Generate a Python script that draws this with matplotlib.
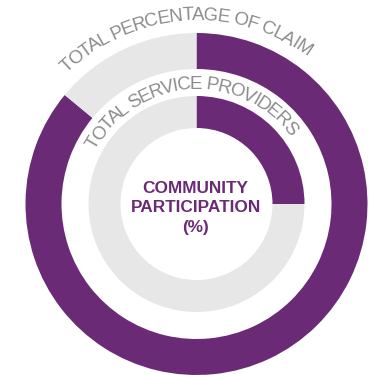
import numpy as np
import matplotlib
matplotlib.use('Agg')
import matplotlib.pyplot as plt

plt.rcParams['font.family'] = ['Liberation Sans', 'DejaVu Sans']

# ring values (share shown in purple, rest grey)
outer_vals = [86, 14]
inner_vals = [25, 75]
outer_label = 'TOTAL PERCENTAGE OF CLAIM'
inner_label = 'TOTAL SERVICE PROVIDERS'
center_label = 'COMMUNITY\nPARTICIPATION\n(%)'

purple = '#6a2a76'
grey = '#e7e7e7'
text_grey = '#8c8c8c'

W, H = 369, 375
cx, cy = 196.5, H - 204

fig = plt.figure(figsize=(W / 100, H / 100), dpi=100)
ax = fig.add_axes([0, 0, 1, 1])

ax.pie(outer_vals, colors=[purple, grey], startangle=90, counterclock=False,
       radius=171, center=(cx, cy), wedgeprops=dict(width=36, linewidth=0))
ax.pie(inner_vals, colors=[purple, grey], startangle=90, counterclock=False,
       radius=108, center=(cx, cy), wedgeprops=dict(width=32, linewidth=0))

ax.set_xlim(0, W)
ax.set_ylim(0, H)
ax.set_aspect('equal')
ax.axis('off')

renderer = fig.canvas.get_renderer()


def arc_text(s, r, mid_deg, size, color, squeeze=1.0):
    # lay the characters one by one along a circle of radius r
    prop = matplotlib.font_manager.FontProperties(family='Liberation Sans', size=size)
    base = renderer.get_text_width_height_descent('||', prop, ismath=False)[0]
    adv = [(renderer.get_text_width_height_descent('|' + s[:i] + '|', prop, ismath=False)[0] - base) * squeeze
           for i in range(len(s) + 1)]
    total = adv[-1]
    for i, ch in enumerate(s):
        if ch == ' ':
            continue
        off = (adv[i] + adv[i + 1]) / 2 - total / 2
        th = np.radians(mid_deg) + off / r
        x = cx + r * np.sin(th)
        y = cy + r * np.cos(th)
        ax.text(x, y, ch, fontproperties=prop, color=color, ha='center', va='baseline',
                rotation=-np.degrees(th), rotation_mode='anchor')


arc_text(outer_label, 184, -4, 13.5, text_grey, squeeze=0.92)
arc_text(inner_label, 115, -4, 13.5, text_grey, squeeze=0.89)

ax.text(cx - 1, cy - 4, center_label, ha='center', va='center', color=purple,
        fontsize=12.4, fontweight='bold', linespacing=1.4)

fig.savefig('out.png', dpi=100)
